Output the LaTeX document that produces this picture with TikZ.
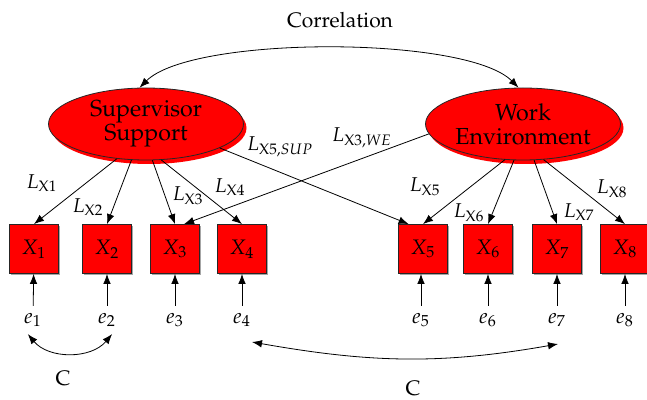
\documentclass[tikz,border=0pt]{standalone}
\usepackage[T1]{fontenc}
\usepackage{mathpazo}
\usepackage{amsmath}
\usepackage{tikz}
\usetikzlibrary{shapes.geometric,shadows,arrows.meta,positioning}

\begin{document}
\begin{tikzpicture}[x=0.5pt,y=0.5pt,>={Latex[length=5pt,width=3.8pt]}]
  \tikzset{factor ellipse/.style={ellipse,draw=black!85,fill=red,minimum width=97.5pt,minimum height=36pt,inner sep=0pt,align=center,font=\fontsize{11.6}{12}\selectfont,drop shadow={shadow xshift=1.5pt,shadow yshift=-2pt,fill=red,draw=none,opacity=1}}}%
  \tikzset{item box/.style={draw=black!85,fill=red,minimum size=24.5pt,inner sep=0pt,font=\fontsize{10.5}{12}\selectfont,drop shadow={shadow xshift=0.6pt,shadow yshift=-0.6pt,fill=black!35,draw=none,opacity=1}}}%
  \tikzset{loading/.style={font=\fontsize{10}{12}\selectfont}}%
  \tikzset{err/.style={font=\fontsize{10.5}{12}\selectfont}}%

  \useasboundingbox (0,0) rectangle (647,-400);

  \node[font=\fontsize{10.5}{12}\selectfont] (corr) at (340,-20) {Correlation};
  \node[factor ellipse] (SUP) at (146,-124) {Supervisor\\Support};
  \node[factor ellipse] (WE) at (523,-124) {Work\\Environment};

  \node[item box] (X1) at (34,-249) {$X_1$};
  \node[item box] (X2) at (107,-249) {$X_2$};
  \node[item box] (X3) at (175,-249) {$X_3$};
  \node[item box] (X4) at (242,-249) {$X_4$};
  \node[item box] (X5) at (423,-249) {$X_5$};
  \node[item box] (X6) at (488,-249) {$X_6$};
  \node[item box] (X7) at (557,-249) {$X_7$};
  \node[item box] (X8) at (625,-249) {$X_8$};

  \node[err] (e1) at (33,-320) {$e_1$};
  \node[err] (e2) at (107,-320) {$e_2$};
  \node[err] (e3) at (175,-320) {$e_3$};
  \node[err] (e4) at (242,-320) {$e_4$};
  \node[err] (e5) at (421,-320) {$e_5$};
  \node[err] (e6) at (488,-320) {$e_6$};
  \node[err] (e7) at (557,-320) {$e_7$};
  \node[err] (e8) at (625,-320) {$e_8$};

  % loadings
  \draw[->] (SUP.230) -- (X1.north);
  \draw[->] (SUP.248) -- (X2.north);
  \draw[->] (SUP.280) -- (X3.north);
  \draw[->] (SUP.293) -- (X4.north);
  \draw[->] (SUP.342) -- (X5.120);
  \draw[->] (WE.186) -- (X3.70);
  \draw[->] (WE.243) -- (X5.north);
  \draw[->] (WE.256) -- (X6.north);
  \draw[->] (WE.287) -- (X7.north);
  \draw[->] (WE.300) -- (X8.north);

  \node[loading] (lx1) at (42,-183) {$L_{\mathrm{X1}}$};
  \node[loading] (lx2) at (88,-207) {$L_{\mathrm{X2}}$};
  \node[loading] (lx3) at (188,-196) {$L_{\mathrm{X3}}$};
  \node[loading] (lx4) at (230,-187) {$L_{\mathrm{X4}}$};
  \node[loading] (lx5sup) at (280,-147) {$L_{\mathrm{X5},SUP}$};
  \node[loading] (lx3we) at (362,-138) {$L_{\mathrm{X3},WE}$};
  \node[loading] (lx5) at (425,-187) {$L_{\mathrm{X5}}$};
  \node[loading] (lx6) at (469,-213) {$L_{\mathrm{X6}}$};
  \node[loading] (lx7) at (579,-212) {$L_{\mathrm{X7}}$};
  \node[loading] (lx8) at (612,-189) {$L_{\mathrm{X8}}$};

  % errors
  \draw[->] (e1) -- (X1);
  \draw[->] (e2) -- (X2);
  \draw[->] (e3) -- (X3);
  \draw[->] (e4) -- (X4);
  \draw[->] (e5) -- (e5 |- X5.south);
  \draw[->] (e6) -- (X6);
  \draw[->] (e7) -- (X7);
  \draw[->] (e8) -- (X8);

  % covariances
  \draw[<->] (SUP.100) to[out=45,in=135,looseness=0.5] (WE.97);
  \draw[<->] (e1.250) to[out=-50,in=-130] (e2.290);
  \coordinate (c4) at (252,-342);
  \coordinate (c7) at (558,-344);
  \draw[<->] (c4) to[out=-10,in=-170] (c7);

  \node[font=\fontsize{10.5}{12}\selectfont] (C1) at (63,-378) {C};
  \node[font=\fontsize{10.5}{12}\selectfont] (C2) at (413,-388) {C};
\end{tikzpicture}
\end{document}
